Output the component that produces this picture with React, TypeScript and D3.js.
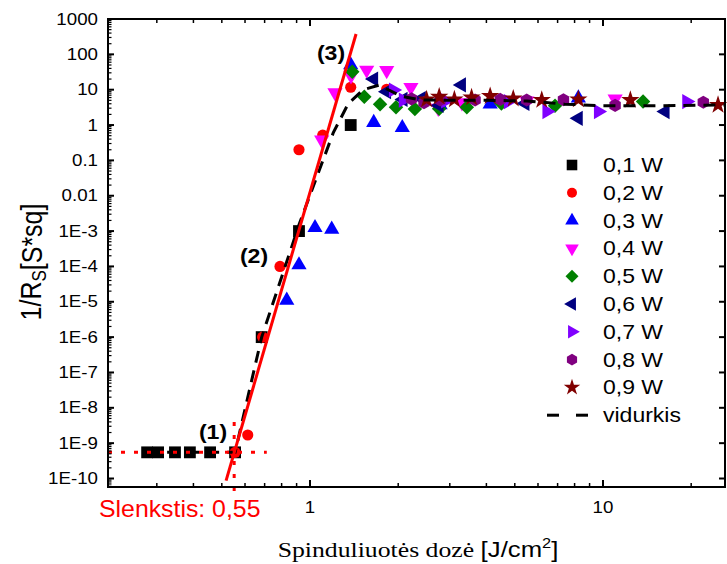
import React from 'react';
import * as d3 from 'd3';

// ---------- data ----------
const yTickValues = [1e3, 1e2, 1e1, 1, 1e-1, 1e-2, 1e-3, 1e-4, 1e-5, 1e-6, 1e-7, 1e-8, 1e-9, 1e-10];
const yTickLabels = ['1000', '100', '10', '1', '0.1', '0.01', '1E-3', '1E-4', '1E-5', '1E-6', '1E-7', '1E-8', '1E-9', '1E-10'];
const xTickValues = [1, 10];
const xTickLabels = ['1', '10'];

const seriesNames = ['0,1 W', '0,2 W', '0,3 W', '0,4 W', '0,5 W', '0,6 W', '0,7 W', '0,8 W', '0,9 W'];
const seriesColors = ['#000000', '#FF0000', '#0000FF', '#FF00FF', '#008000', '#000080', '#8000FF', '#800080', '#800000'];
const seriesShapes = ['square', 'circle', 'up', 'down', 'diamond', 'left', 'right', 'hexagon', 'star'];

const s01 = [[0.278, 5.5e-10], [0.303, 5.5e-10], [0.346, 5.5e-10], [0.389, 5.5e-10], [0.456, 5.5e-10], [0.555, 5.5e-10], [0.684, 1e-6], [0.917, 1e-3], [1.377, 1]];
const s02 = [[0.555, 5.5e-10], [0.613, 1.7e-9], [0.689, 1e-6], [0.79, 1e-4], [0.917, 0.2], [1.105, 0.52], [1.377, 11.7], [1.827, 10.3]];
const s03 = [[0.833, 1.1e-5], [0.917, 1.1e-4], [1.04, 1.25e-3], [1.186, 1.12e-3], [1.377, 50], [1.65, 1.17], [2.065, 0.84], [2.78, 3.7], [4.12, 3.9], [8.24, 5.8]];
const s04 = [[1.096, 0.38], [1.217, 8.2], [1.38, 25], [1.561, 36], [1.827, 35], [2.21, 11.7], [2.74, 3.0], [3.3, 4.3], [5.5, 4.8], [11, 5.5]];
const s05 = [[1.394, 32], [1.532, 6.3], [1.734, 3.9], [1.966, 3.2], [2.28, 2.85], [2.76, 2.9], [3.43, 3.2], [4.5, 4.1], [6.86, 3.5], [13.7, 4.6]];
const s06 = [[1.65, 20], [1.827, 8.8], [2.08, 5.3], [2.4, 5.6], [2.76, 3.6], [3.29, 13.6], [5.42, 4.1], [8.24, 1.55], [16.3, 2.4]];
const s07 = [[1.925, 9.8], [2.08, 5.1], [2.9, 4.8], [4.75, 4.6], [6.43, 2.4], [9.64, 2.4], [19.3, 4.6]];
const s08 = [[2.22, 5.5], [2.45, 4.3], [2.78, 5.1], [3.66, 5.1], [4.46, 5.3], [5.49, 5.1], [7.33, 5.2], [11, 3.6], [22, 4.4]];
const s09 = [[2.5, 5.3], [2.76, 6.3], [3.11, 5.3], [3.56, 6.0], [4.12, 6.6], [4.94, 5.6], [6.18, 5.1], [8.24, 5.3], [12.4, 5.1], [24.7, 3.7]];
const allSeries = [s01, s02, s03, s04, s05, s06, s07, s08, s09];

const avgX = [0.278, 0.35, 0.45, 0.555, 0.684, 0.917, 1.2, 1.35, 1.52, 1.72, 2.05, 2.4, 4.0, 5.5, 7.4, 10, 15, 26];
const avgY = [5.5e-10, 5.5e-10, 5.5e-10, 5.5e-10, 1e-6, 1.5e-3, 0.6, 4, 10, 13.5, 6.5, 5.1, 5.0, 4.8, 3.9, 3.5, 3.5, 3.7];

const fitX = [0.517, 1.436];
const fitY = [8.7e-11, 376];
const thresholdX = 0.551;
const thresholdY = 5.5e-10;

// ---------- layout ----------
const W = 727, H = 564;
const L = 108, R = 725, T = 19, B = 487;
const FONT = 'Arial, "Liberation Sans", Helvetica, sans-serif';
const SX = 1.17;

const hexagon = {
  draw(ctx: any, size: number) {
    const r = Math.sqrt(size / (1.5 * Math.sqrt(3)));
    for (let i = 0; i < 6; i++) {
      const a = (-90 + 60 * i) * Math.PI / 180;
      const px = r * Math.cos(a), py = r * Math.sin(a);
      if (i === 0) ctx.moveTo(px, py); else ctx.lineTo(px, py);
    }
    ctx.closePath();
  }
};

function markerPath(shape: string, scale = 1) {
  switch (shape) {
    case 'square': return { d: d3.symbol().type(d3.symbolSquare).size(140 * scale)(), rot: 0 };
    case 'circle': return { d: d3.symbol().type(d3.symbolCircle).size(98 * scale)(), rot: 0 };
    case 'up': return { d: d3.symbol().type(d3.symbolTriangle).size(100 * scale)(), rot: 0 };
    case 'down': return { d: d3.symbol().type(d3.symbolTriangle).size(100 * scale)(), rot: 180 };
    case 'left': return { d: d3.symbol().type(d3.symbolTriangle).size(100 * scale)(), rot: -90 };
    case 'right': return { d: d3.symbol().type(d3.symbolTriangle).size(100 * scale)(), rot: 90 };
    case 'diamond': return { d: d3.symbol().type(d3.symbolSquare).size(105 * scale)(), rot: 45 };
    case 'hexagon': return { d: d3.symbol().type(hexagon as any).size(112 * scale)(), rot: 0 };
    case 'star': return { d: d3.symbol().type(d3.symbolStar).size(105 * scale)(), rot: 0 };
  }
  return { d: '', rot: 0 };
}

function Txt(props: any) {
  const { x, y, size, anchor = 'start', fill = '#000', weight = 'normal', sx = SX, family = FONT, children, baseline } = props;
  return (
    <text transform={`translate(${x},${y}) scale(${sx},1)`} fontSize={size} textAnchor={anchor} fill={fill}
      fontWeight={weight} fontFamily={family} dominantBaseline={baseline}>{children}</text>
  );
}

export default function App() {
  const x = d3.scaleLog().domain([0.2044, 26.09]).range([L, R]);
  const y = d3.scaleLog().domain([5.75e-11, 1000]).range([B, T]);

  const yMinor: number[] = [];
  for (let e = -11; e <= 2; e++) for (let m = 2; m <= 9; m++) {
    const v = m * Math.pow(10, e);
    if (v > 5.75e-11 && v < 1000) yMinor.push(v);
  }
  const xMinor: number[] = [];
  for (let e = -1; e <= 1; e++) for (let m = 2; m <= 9; m++) {
    const v = m * Math.pow(10, e);
    if (v > 0.2044 && v < 26.09) xMinor.push(v);
  }

  const avgLine = d3.line<number>().x((_, i) => x(avgX[i])).y((_, i) => y(avgY[i]))(avgX as any) || '';

  const legendY0 = 165, legendDy = 27.8, legendMX = 572, legendTX = 603;

  return (
    <div style={{ position: 'absolute', left: 0, top: 0 }}>
      <svg width={W} height={H} viewBox={`0 0 ${W} ${H}`} style={{ display: 'block', background: '#fff' }}>
        <rect x={0} y={0} width={W} height={H} fill="#fff" />

        {/* markers */}
        {allSeries.map((s, si) => {
          const mp = markerPath(seriesShapes[si]);
          return (
            <g key={si}>
              {s.map((p, i) => (
                <path key={i} d={mp.d} fill={seriesColors[si]}
                  transform={`translate(${x(p[0])},${y(p[1])}) rotate(${mp.rot})`} />
              ))}
            </g>
          );
        })}

        {/* average dashed line */}
        <path d={avgLine} fill="none" stroke="#000" strokeWidth={3} strokeDasharray="12,8" />

        {/* fit line */}
        <line x1={x(fitX[0])} y1={y(fitY[0])} x2={x(fitX[1])} y2={y(fitY[1])} stroke="#FF0000" strokeWidth={3} />

        {/* threshold dotted lines */}
        <line x1={L} y1={y(thresholdY)} x2={x(0.712)} y2={y(thresholdY)} stroke="#FF0000" strokeWidth={3} strokeDasharray="4,9" />
        <line x1={x(thresholdX)} y1={y(4e-9)} x2={x(thresholdX)} y2={B + 7} stroke="#FF0000" strokeWidth={3} strokeDasharray="4,9" />

        {/* frame */}
        <rect x={L} y={T} width={R - L} height={B - T} fill="none" stroke="#000" strokeWidth={2} />

        {/* y ticks */}
        {yTickValues.map((v, i) => (
          <g key={'yt' + i}>
            <line x1={L} x2={L + 6} y1={y(v)} y2={y(v)} stroke="#000" strokeWidth={2} />
            <line x1={R} x2={R - 6} y1={y(v)} y2={y(v)} stroke="#000" strokeWidth={2} />
            <Txt x={98} y={y(v)} size={16} anchor="end" baseline="central">{yTickLabels[i]}</Txt>
          </g>
        ))}
        {yMinor.map((v, i) => (
          <line key={'ym' + i} x1={L} x2={L + 3.5} y1={y(v)} y2={y(v)} stroke="#000" strokeWidth={1.2} />
        ))}

        {/* x ticks */}
        {xTickValues.map((v, i) => (
          <g key={'xt' + i}>
            <line x1={x(v)} x2={x(v)} y1={B} y2={B - 7} stroke="#000" strokeWidth={2} />
            <line x1={x(v)} x2={x(v)} y1={T} y2={T + 7} stroke="#000" strokeWidth={2} />
            <Txt x={x(v)} y={507} size={16} anchor="middle" baseline="central">{xTickLabels[i]}</Txt>
          </g>
        ))}
        {xMinor.map((v, i) => (
          <g key={'xm' + i}>
            <line x1={x(v)} x2={x(v)} y1={B} y2={B - 4} stroke="#000" strokeWidth={1.5} />
            <line x1={x(v)} x2={x(v)} y1={T} y2={T + 4} stroke="#000" strokeWidth={1.5} />
          </g>
        ))}

        {/* annotations */}
        <Txt x={213} y={432} size={21} weight="bold" anchor="middle" baseline="central" sx={1.1}>(1)</Txt>
        <Txt x={254} y={256} size={21} weight="bold" anchor="middle" baseline="central" sx={1.1}>(2)</Txt>
        <Txt x={331} y={53} size={21} weight="bold" anchor="middle" baseline="central" sx={1.1}>(3)</Txt>
        <Txt x={99} y={517} size={23} fill="#FF0000" sx={1.08}>Slenkstis: 0,55</Txt>

        {/* legend */}
        {seriesNames.map((n, i) => {
          const mp = markerPath(seriesShapes[i], 0.8);
          const ly = legendY0 + legendDy * i;
          return (
            <g key={'lg' + i}>
              <path d={mp.d} fill={seriesColors[i]} transform={`translate(${legendMX},${ly}) rotate(${mp.rot})`} />
              <Txt x={legendTX} y={ly} size={20} baseline="central" sx={1.15}>{n}</Txt>
            </g>
          );
        })}
        <line x1={547} x2={559} y1={legendY0 + legendDy * 9} y2={legendY0 + legendDy * 9} stroke="#000" strokeWidth={3} />
        <line x1={576} x2={588} y1={legendY0 + legendDy * 9} y2={legendY0 + legendDy * 9} stroke="#000" strokeWidth={3} />
        <Txt x={legendTX} y={legendY0 + legendDy * 9} size={20} baseline="central" sx={1.15}>vidurkis</Txt>

        {/* axis titles */}
        <text transform={`translate(31,262) rotate(-90) scale(1,${SX})`} fontSize={25} fontFamily={FONT} textAnchor="middle" dominantBaseline="central">
          1/R<tspan fontSize={17} dy={6}>S</tspan><tspan dy={-6}>[S*sq]</tspan>
        </text>
        <text transform={`translate(418,557) scale(${SX},1)`} fontSize={22} textAnchor="middle">
          <tspan fontFamily={'"Liberation Serif", "Times New Roman", serif'}>Spinduliuotės dozė </tspan>
          <tspan fontFamily={FONT}>[J/cm</tspan>
          <tspan fontFamily={FONT} fontSize={14} dy={-9}>2</tspan>
          <tspan fontFamily={FONT} dy={9}>]</tspan>
        </text>
      </svg>
    </div>
  );
}
